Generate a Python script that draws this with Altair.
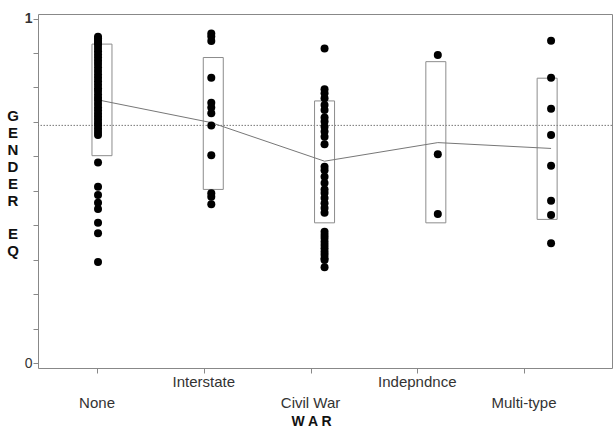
import altair as alt
import pandas as pd

categories = ["None", "Interstate", "Civil War", "Indepndnce", "Multi-type"]

none_vals = [0.947, 0.942, 0.936, 0.930, 0.924, 0.915, 0.905, 0.896, 0.887, 0.878,
             0.868, 0.858, 0.848, 0.838, 0.828, 0.818, 0.808, 0.798, 0.790, 0.780,
             0.770, 0.762, 0.752, 0.742, 0.733, 0.724, 0.715, 0.706, 0.697, 0.690,
             0.680, 0.671, 0.662, 0.582, 0.512, 0.488, 0.465, 0.447, 0.407, 0.377, 0.293]
interstate_vals = [0.957, 0.948, 0.935, 0.828, 0.756, 0.742, 0.725, 0.690, 0.603,
                   0.493, 0.483, 0.461]
civil_vals = [0.913, 0.795, 0.783, 0.769, 0.749, 0.735, 0.713, 0.701, 0.686, 0.672,
              0.657, 0.635, 0.570, 0.560, 0.541, 0.523, 0.504, 0.494, 0.479, 0.464,
              0.450, 0.436, 0.381, 0.372, 0.363, 0.352, 0.343, 0.333, 0.323, 0.314,
              0.304, 0.299, 0.278]
indep_vals = [0.894, 0.606, 0.433]
multi_vals = [0.936, 0.828, 0.738, 0.662, 0.573, 0.471, 0.430, 0.348]

box_lo = [0.602, 0.504, 0.407, 0.407, 0.417]
box_hi = [0.926, 0.887, 0.761, 0.875, 0.827]
means = [0.764, 0.698, 0.586, 0.640, 0.623]
ref_level = [0.69]

y_title_1 = ["G", "E", "N", "D", "E", "R"]
y_title_2 = ["E", "Q"]
x_title = "W A R"

all_vals = [none_vals, interstate_vals, civil_vals, indep_vals, multi_vals]
pts = pd.DataFrame([{"pos": i + 1, "v": v} for i, vals in enumerate(all_vals) for v in vals])
summ = pd.DataFrame({"pos": list(range(1, 6)), "cat": categories,
                     "lo": box_lo, "hi": box_hi, "mean": means})
ref = pd.DataFrame({"v": ref_level})

FONT = "Liberation Sans"
xs = alt.Scale(domain=[0.470, 5.538], nice=False, zero=False)
xa = alt.Scale(domain=[0.447, 5.824], nice=False, zero=False)
ys = alt.Scale(domain=[-0.0145, 1.0134], nice=False, zero=False)

yaxis = alt.Axis(
    values=[0, 0.1, 0.2, 0.3, 0.4, 0.5, 0.6, 0.7, 0.8, 0.9, 1.0],
    labelExpr="datum.value == 0 ? '0' : (datum.value == 1 ? '1' : '')",
    domain=False, grid=False, tickSize=5, tickColor="#888888",
    labelFont=FONT, labelFontSize=14, labelColor="#333333", labelPadding=1,
    labelFontWeight={"condition": {"test": "datum.value == 1", "value": "bold"}, "value": "normal"},
    title="",
)

refline = alt.Chart(ref).mark_rule(color="#777777", strokeWidth=1, strokeDash=[1.5, 1.5]).encode(
    y=alt.Y("v:Q", scale=ys, axis=yaxis)
)

boxes = alt.Chart(summ).mark_bar(size=20, fill="transparent", stroke="#8c8c8c", strokeWidth=1).encode(
    x=alt.X("pos:Q", scale=xs, axis=None),
    y=alt.Y("lo:Q", scale=ys, axis=yaxis),
    y2="hi:Q",
)

meanline = alt.Chart(summ).mark_line(color="#777777", strokeWidth=1).encode(
    x=alt.X("pos:Q", scale=xs, axis=None),
    y=alt.Y("mean:Q", scale=ys, axis=yaxis),
)

points = alt.Chart(pts).mark_circle(size=64, color="black", opacity=1).encode(
    x=alt.X("pos:Q", scale=xs, axis=None),
    y=alt.Y("v:Q", scale=ys, axis=yaxis),
)

xaxis_layer = alt.Chart(summ).mark_point(opacity=0).encode(
    x=alt.X("pos:Q", scale=xa, axis=alt.Axis(
        values=[1, 2, 3, 4, 5], labels=False, domain=False, grid=False,
        ticks=True, tickSize=5, tickColor="#888888", tickWidth=1, orient="bottom",
        title=x_title, titleFont=FONT, titleFontSize=14, titleFontWeight="bold",
        titleColor="#111111", titleX=273, titleY=53, titleBaseline="middle",
        titleAlign="center")),
    y=alt.value(0),
)

upper_labels = alt.Chart(summ).transform_filter("datum.pos % 2 == 0").mark_text(
    font=FONT, fontSize=15, color="#333333", baseline="middle").encode(
    x=alt.X("pos:Q", scale=xa, axis=None),
    y=alt.value(368),
    text="cat:N",
)
lower_labels = alt.Chart(summ).transform_filter("datum.pos % 2 == 1").mark_text(
    font=FONT, fontSize=15, color="#333333", baseline="middle").encode(
    x=alt.X("pos:Q", scale=xa, axis=None),
    y=alt.value(389),
    text="cat:N",
)

ytitle1 = alt.Chart(ref).mark_text(
    font=FONT, fontSize=15, fontWeight="bold", color="#111111",
    baseline="top", align="center", lineHeight=17).encode(
    x=alt.value(-25), y=alt.value(95), text=alt.value(y_title_1))
ytitle2 = alt.Chart(ref).mark_text(
    font=FONT, fontSize=15, fontWeight="bold", color="#111111",
    baseline="top", align="center", lineHeight=17).encode(
    x=alt.value(-25), y=alt.value(213), text=alt.value(y_title_2))

chart = alt.layer(
    refline, boxes, meanline, points, xaxis_layer, upper_labels, lower_labels,
    ytitle1, ytitle2
).resolve_scale(x="independent").properties(
    width=574, height=354, autosize="none",
    padding={"left": 38, "top": 14, "right": 2, "bottom": 64},
    background="white",
).configure_view(stroke="#888888", strokeWidth=1)

chart.save("out.html", embed_options={"renderer": "svg", "actions": False})
